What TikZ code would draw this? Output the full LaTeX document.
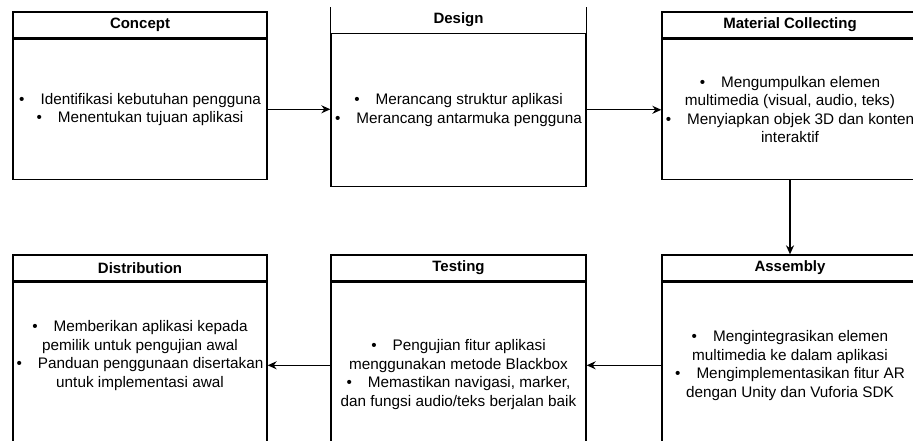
\documentclass[tikz,border=0pt]{standalone}
\usepackage{fontspec}
\setmainfont{Liberation Sans}
\usetikzlibrary{arrows.meta}

\tikzset{
    hdr/.style={draw, line width=1.3pt, minimum height=26pt, inner sep=0pt,
        font=\bfseries\fontsize{15}{18}\selectfont},
    bodybox/.style={draw, line width=1.3pt, inner sep=0pt},
    txt/.style={align=center, inner sep=0pt, font=\fontsize{15.3}{18.5}\selectfont},
    flow/.style={line width=1.3pt, -{Stealth[length=9pt, width=8pt]}}
}
\newcommand{\itm}{\textbullet\hspace{16pt}}

\begin{document}
\begin{tikzpicture}[x=1pt, y=-1pt]
    \useasboundingbox (0, 0) rectangle (913, 441);
    \clip (0, 0) rectangle (913, 441);

    % Top row
    \node[hdr, minimum width=254pt] (concept) at (140, 25) {Concept};
    \node[bodybox, minimum width=254pt, minimum height=140pt, anchor=north] (conceptbody) at (concept.south) {};
    \node[txt] (concepttxt) at (conceptbody.center) {\itm Identifikasi kebutuhan pengguna\\ \itm Menentukan tujuan aplikasi};

    \node[hdr, draw=none, minimum width=255pt, minimum height=24pt] (design) at (458.5, 20) {Design};
    \node[bodybox, minimum width=255pt, minimum height=153pt, anchor=north] (designbody) at (design.south) {};
    \draw[line width=1.3pt] (design.north west) -- (design.south west) (design.north east) -- (design.south east);
    \node[txt] (designtxt) at (designbody.center) {\itm Merancang struktur aplikasi\\ \itm Merancang antarmuka pengguna};

    \node[hdr, minimum width=256pt] (material) at (790, 25) {Material Collecting};
    \node[bodybox, minimum width=256pt, minimum height=140pt, anchor=north] (materialbody) at (material.south) {};
    \node[txt] (materialtxt) at (materialbody.center) {\itm Mengumpulkan elemen\\ multimedia (visual, audio, teks)\\ \itm Menyiapkan objek 3D dan konten\\ interaktif};

    % Bottom row
    \node[hdr, minimum width=256pt] (assembly) at (790, 268) {Assembly};
    \node[bodybox, minimum width=256pt, minimum height=166pt, anchor=north] (assemblybody) at (assembly.south) {};
    \node[txt] (assemblytxt) at (assemblybody.center) {\itm Mengintegrasikan elemen\\ multimedia ke dalam aplikasi\\ \itm Mengimplementasikan fitur AR\\ dengan Unity dan Vuforia SDK};

    \node[hdr, minimum width=255pt] (testing) at (458.5, 268) {Testing};
    \node[bodybox, minimum width=255pt, minimum height=166pt, anchor=north] (testingbody) at (testing.south) {};
    \node[txt] (testingtxt) at ([yshift=-9pt]testingbody.center) {\itm Pengujian fitur aplikasi\\ menggunakan metode Blackbox\\ \itm Memastikan navigasi, marker,\\ dan fungsi audio/teks berjalan baik};

    \node[hdr, minimum width=254pt] (distribution) at (140, 268) {Distribution};
    \node[bodybox, minimum width=254pt, minimum height=166pt, anchor=north] (distbody) at (distribution.south) {};
    \node[txt] (disttxt) at ([yshift=10pt]distbody.center) {\itm Memberikan aplikasi kepada\\ pemilik untuk pengujian awal\\ \itm Panduan penggunaan disertakan\\ untuk implementasi awal};

    % Arrows
    \draw[flow] (conceptbody.east) -- (conceptbody.east -| designbody.west);
    \draw[flow] (designbody.east) -- (designbody.east -| materialbody.west);
    \draw[flow] (materialbody.south) -- (assembly.north);
    \draw[flow] (assemblybody.west) -- (testingbody.east);
    \draw[flow] (testingbody.west) -- (distbody.east);
\end{tikzpicture}
\end{document}
